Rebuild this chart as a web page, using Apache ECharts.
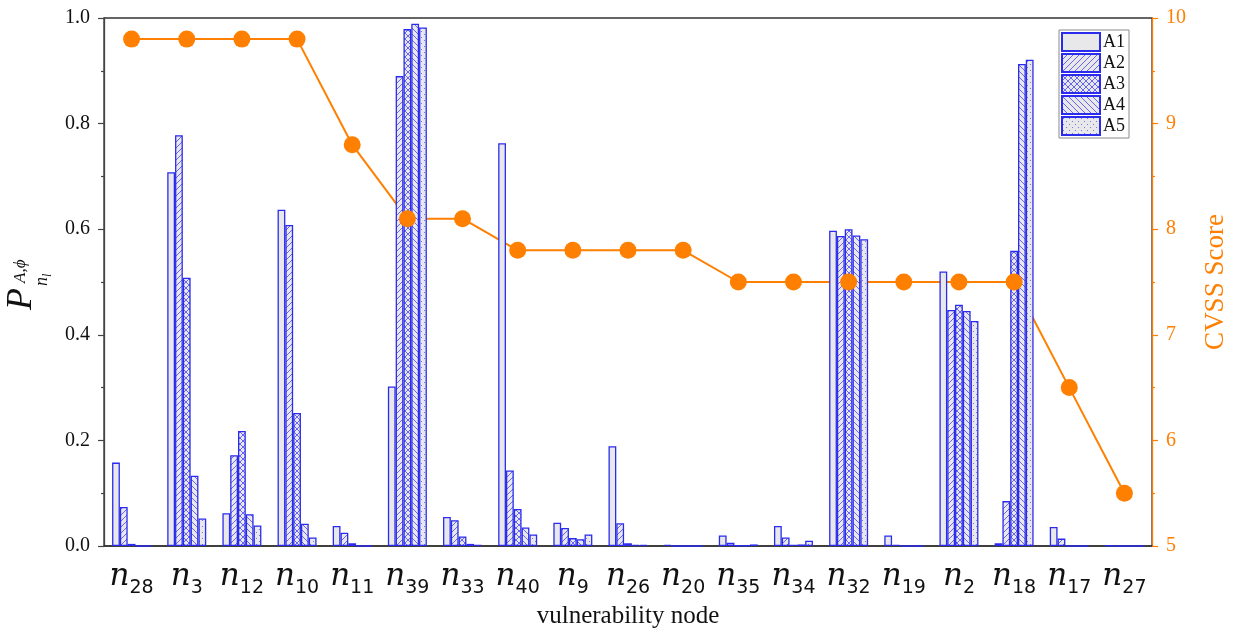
<!DOCTYPE html>
<html><head><meta charset="utf-8">
<script src="https://cdn.jsdelivr.net/npm/echarts@6/dist/echarts.min.js"></script>
<style>html,body{margin:0;padding:0;background:#fff}#c{width:1234px;height:632px}</style>
</head><body><div id="c"></div>
<script>
const nodes = ['28','3','12','10','11','39','33','40','9','26','20','35','34','32','19','2','18','17','27'];
const A1 = [0.158,0.708,0.062,0.637,0.038,0.302,0.055,0.763,0.044,0.189,0.002,0.020,0.038,0.597,0.020,0.520,0.005,0.036,0.001];
const A2 = [0.074,0.778,0.172,0.608,0.025,0.890,0.049,0.143,0.034,0.043,0,0.006,0.016,0.587,0.002,0.447,0.085,0.014,0];
const A3 = [0.004,0.508,0.218,0.252,0.005,0.979,0.018,0.070,0.015,0.005,0,0.001,0.002,0.600,0,0.457,0.559,0,0];
const A4 = [0,0.133,0.060,0.042,0,0.989,0.004,0.035,0.013,0.002,0,0.001,0.003,0.588,0,0.445,0.913,0,0];
const A5 = [0,0.052,0.039,0.016,0,0.982,0.002,0.022,0.022,0.002,0,0.003,0.010,0.581,0,0.426,0.921,0,0];
const cvss = [9.8,9.8,9.8,9.8,8.8,8.1,8.1,7.8,7.8,7.8,7.8,7.5,7.5,7.5,7.5,7.5,7.5,6.5,5.5];
const leftTicks = [0,0.2,0.4,0.6,0.8,1.0];
const rightTicks = [5,6,7,8,9,10];

const ORANGE = '#ff7f00';
const BLUE = '#2b2bee';
const FILL = '#e8e8ea';
const SERIF = '"Liberation Serif","Times New Roman",serif';

function pattern(kind){
  const s = 6;
  const c = document.createElement('canvas');
  c.width = s; c.height = s;
  const g = c.getContext('2d');
  g.fillStyle = FILL; g.fillRect(0,0,s,s);
  g.strokeStyle = 'rgba(60,60,240,0.85)'; g.lineWidth = 0.9;
  const fwd = () => { g.beginPath(); g.moveTo(-1,s+1); g.lineTo(s+1,-1); g.moveTo(-2,2); g.lineTo(2,-2); g.moveTo(s-2,s+2); g.lineTo(s+2,s-2); g.stroke(); };
  const back = () => { g.beginPath(); g.moveTo(-1,-1); g.lineTo(s+1,s+1); g.moveTo(s-2,-2); g.lineTo(s+2,2); g.moveTo(-2,s-2); g.lineTo(2,s+2); g.stroke(); };
  if (kind === 'fwd') fwd();
  if (kind === 'back') back();
  if (kind === 'cross') { fwd(); back(); }
  if (kind === 'dot') { g.fillStyle = 'rgba(90,90,230,0.8)'; g.fillRect(1,1,1,1); g.fillRect(4,4,1,1); }
  if (kind === 'solid') return FILL;
  return { image: c, repeat: 'repeat' };
}

const names = ['A1','A2','A3','A4','A5'];
const datas = [A1,A2,A3,A4,A5];
const kinds = ['solid','fwd','cross','back','dot'];

const barSeries = names.map((n,i) => ({
  name: n, type: 'bar', data: datas[i], yAxisIndex: 0,
  barWidth: 7.8, barGap: '0%', z: 3,
  itemStyle: { color: pattern(kinds[i]), borderColor: BLUE, borderWidth: 1.3 },
  emphasis: { disabled: true }
}));

const chart = echarts.init(document.getElementById('c'), null, { renderer: 'canvas' });
chart.setOption({
  animation: false,
  backgroundColor: '#fff',
  grid: { left: 104, right: 82, top: 18, bottom: 86, outerBoundsMode: 'none', containLabel: false, show: true, borderColor: '#333', borderWidth: 1.3, backgroundColor: 'transparent' },
  legend: {
    data: names, orient: 'vertical', right: 105, top: 30,
    itemWidth: 38, itemHeight: 18, itemGap: 1, padding: [2, 4, 2, 2],
    borderColor: '#8a8a8a', borderWidth: 1, backgroundColor: '#fff',
    textStyle: { fontFamily: SERIF, fontSize: 18, lineHeight: 18, color: '#111', padding: [0,0,0,-2] },
    icon: 'rect', selectedMode: false
  },
  xAxis: {
    type: 'category', data: nodes,
    name: 'vulnerability node', nameLocation: 'middle', nameGap: 58,
    nameTextStyle: { fontFamily: SERIF, fontSize: 25, color: '#111' },
    axisLine: { lineStyle: { color: '#333', width: 1.5 } },
    axisTick: { show: false },
    axisLabel: {
      interval: 0, margin: 10,
      formatter: v => '{n|n}{s|' + v + '}',
      rich: {
        n: { fontFamily: '"DejaVu Serif",serif', fontStyle: 'italic', fontSize: 31, color: '#111', verticalAlign: 'bottom', lineHeight: 36 },
        s: { fontFamily: '"DejaVu Sans",sans-serif', fontSize: 19, color: '#111', verticalAlign: 'bottom', lineHeight: 26, padding: [0,0,-6,0] }
      }
    },
    splitLine: { show: false }
  },
  yAxis: [
    {
      type: 'value', min: 0, max: 1.0, interval: 0.2,
      axisLine: { show: true, lineStyle: { color: '#444', width: 1.3 } },
      axisTick: { show: true, length: 6, lineStyle: { color: '#444', width: 1.2 } },
      minorTick: { show: true, splitNumber: 2, length: 3, lineStyle: { color: '#444', width: 1.2 } },
      splitLine: { show: false },
      axisLabel: { margin: 14, fontFamily: SERIF, fontSize: 20, color: '#111', formatter: v => leftTicks.includes(+v.toFixed(1)) ? v.toFixed(1) : '' }
    },
    {
      type: 'value', min: 5, max: 10, interval: 1, position: 'right',
      name: 'CVSS Score', nameLocation: 'middle', nameGap: 50, nameRotate: 90,
      nameTextStyle: { fontFamily: SERIF, fontSize: 27, color: ORANGE },
      axisLine: { show: true, lineStyle: { color: ORANGE, width: 1.3 } },
      axisTick: { show: true, length: 6, lineStyle: { color: ORANGE, width: 1.2 } },
      minorTick: { show: true, splitNumber: 2, length: 3, lineStyle: { color: ORANGE, width: 1.2 } },
      splitLine: { show: false },
      axisLabel: { margin: 14, fontFamily: SERIF, fontSize: 20, color: ORANGE, formatter: v => rightTicks.includes(v) ? String(v) : '' }
    }
  ],
  graphic: [{
    type: 'group', x: 40, y: 310, rotation: Math.PI / 2,
    children: [
      { type: 'text', x: 0, y: 0, style: { text: 'P', fontFamily: SERIF, fontStyle: 'italic', fontSize: 36, fill: '#111', verticalAlign: 'bottom', align: 'left' } },
      { type: 'text', x: 27, y: -11, style: { text: 'A,ϕ', fontFamily: SERIF, fontStyle: 'italic', fontSize: 17, fill: '#111', verticalAlign: 'bottom', align: 'left' } },
      { type: 'text', x: 24, y: 11, style: { text: 'n', fontFamily: SERIF, fontStyle: 'italic', fontSize: 18, fill: '#111', verticalAlign: 'bottom', align: 'left' } },
      { type: 'text', x: 33, y: 14, style: { text: 'l', fontFamily: SERIF, fontStyle: 'italic', fontSize: 12, fill: '#111', verticalAlign: 'bottom', align: 'left' } }
    ]
  }],
  series: [
    ...barSeries,
    { name: 'CVSS', type: 'line', yAxisIndex: 1, data: cvss, z: 1, symbol: 'none',
      lineStyle: { color: ORANGE, width: 2 }, emphasis: { disabled: true } },
    { name: 'CVSSdots', type: 'scatter', yAxisIndex: 1, data: cvss, z: 5, symbol: 'circle', symbolSize: 17,
      itemStyle: { color: ORANGE, opacity: 1 }, emphasis: { disabled: true } }
  ]
});
</script></body></html>
